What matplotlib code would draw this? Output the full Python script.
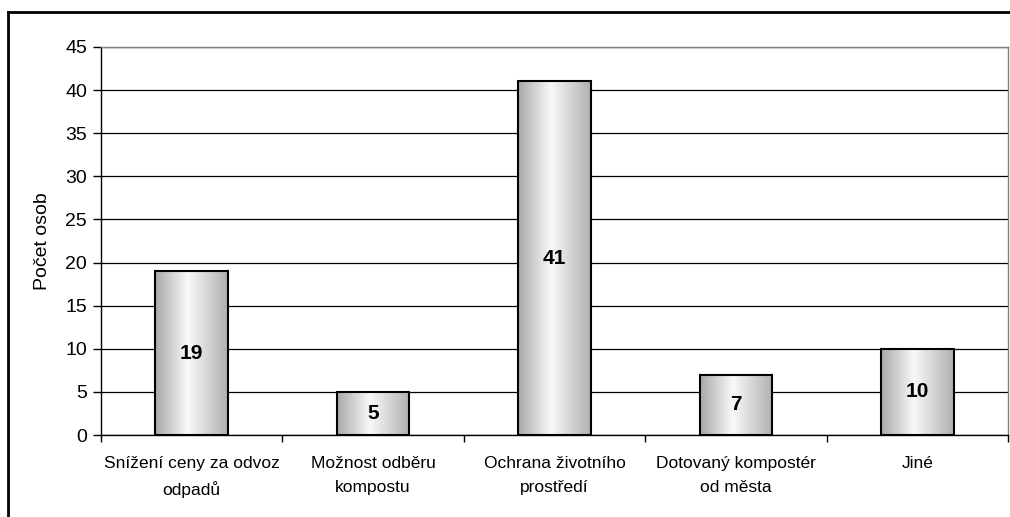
import numpy as np
import matplotlib
matplotlib.use("Agg")
import matplotlib.pyplot as plt
from matplotlib.colors import LinearSegmentedColormap
from matplotlib.lines import Line2D

categories = [
    "Snížení ceny za odvoz\nodpadů",
    "Možnost odběru\nkompostu",
    "Ochrana životního\nprostředí",
    "Dotovaný kompostér\nod města",
    "Jiné",
]
values = [19, 5, 41, 7, 10]
y_ticks = [0, 5, 10, 15, 20, 25, 30, 35, 40, 45]
y_label = "Počet osob"

plt.rcParams["font.family"] = ["Liberation Sans", "DejaVu Sans"]

fig = plt.figure(figsize=(10.1, 5.17), dpi=100)
ax = fig.add_axes([0.1, 0.1586, 0.898, 0.7505])

# Outer chart frame (left and top edges visible)
fig.add_artist(Line2D([8 / 1010, 8 / 1010], [0, 1 - 12 / 517], transform=fig.transFigure,
                      color="black", lw=2))
fig.add_artist(Line2D([8 / 1010, 1.0], [1 - 12 / 517, 1 - 12 / 517], transform=fig.transFigure,
                      color="black", lw=2))

x = np.arange(len(categories))
bars = ax.bar(x, values, width=0.4, color="none", edgecolor="black", linewidth=1.5, zorder=3)

cmap = LinearSegmentedColormap.from_list(
    "cyl", [(0.0, "#a8a8a8"), (0.45, "#f9f9f9"), (1.0, "#b0b0b0")])
grad = np.linspace(0, 1, 256).reshape(1, -1)
for b in bars:
    x0, y0 = b.get_x(), b.get_y()
    w, h = b.get_width(), b.get_height()
    im = ax.imshow(grad, cmap=cmap, extent=[x0, x0 + w, y0, y0 + h],
                   aspect="auto", zorder=2, interpolation="bicubic")
    im.set_clip_path(b)

for xi, v in zip(x, values):
    ax.text(xi, v / 2, str(v), ha="center", va="center", fontsize=15,
            fontweight="bold", zorder=4)

ax.set_xlim(-0.5, len(categories) - 0.5)
ax.set_ylim(0, 45)
ax.set_yticks(y_ticks)
ax.tick_params(axis="y", labelsize=14, length=6, width=1, direction="out", pad=4)
ax.yaxis.grid(True, color="black", lw=0.9, zorder=0)
ax.set_axisbelow(True)

ax.set_xticks(x)
ax.set_xticklabels(categories, fontsize=12.5, linespacing=1.75)
ax.tick_params(axis="x", length=0, pad=15)
ax.set_xticks(np.arange(len(categories) + 1) - 0.5, minor=True)
ax.tick_params(axis="x", which="minor", length=5, width=1, direction="out")

ax.set_ylabel(y_label, fontsize=14, labelpad=10)

ax.spines["left"].set_color("black")
ax.spines["bottom"].set_color("black")
ax.spines["top"].set_color("#808080")
ax.spines["right"].set_color("#808080")
for s in ax.spines.values():
    s.set_linewidth(1)

fig.savefig("out.png", dpi=100)
